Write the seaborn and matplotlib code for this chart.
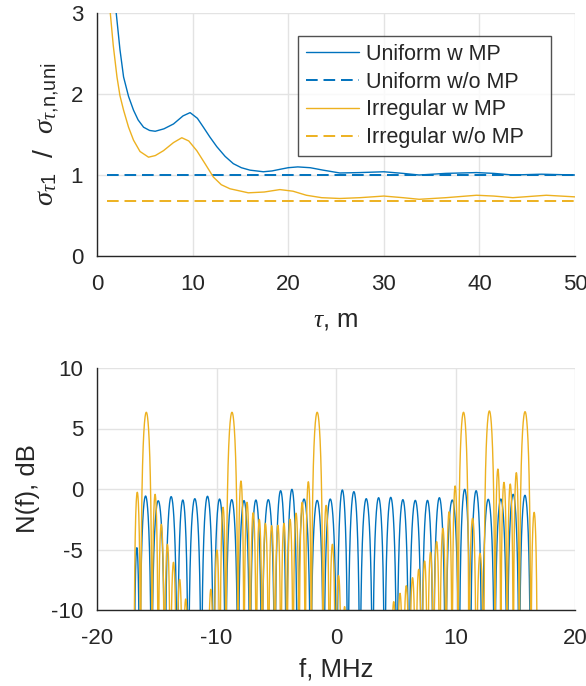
import numpy as np
import pandas as pd
import seaborn as sns
import matplotlib.pyplot as plt

# ---- top panel: normalised delay spread vs tau ----
tau_uni = [1.0, 1.5, 2.01, 2.4, 2.78, 3.3, 3.82, 4.3, 4.87, 5.5, 6.09, 7.0, 8.0, 9.0, 9.74,
           10.5, 11.13, 11.8, 12.53, 13.4, 14.26, 15.1, 16.0, 17.4, 18.3, 19.13, 20.0,
           21.0, 22.3, 23.65, 25.4, 27.5, 30.0, 32.0, 33.7, 36.5, 39.7, 41.5, 43.5, 46.5, 50.0]
sig_uni = [5.5, 4.0, 3.0, 2.55, 2.21, 1.97, 1.80, 1.68, 1.59, 1.55, 1.54, 1.57, 1.63, 1.73, 1.77,
           1.70, 1.59, 1.47, 1.35, 1.23, 1.14, 1.09, 1.06, 1.04, 1.05, 1.07, 1.09,
           1.10, 1.09, 1.06, 1.025, 1.03, 1.04, 1.02, 1.0, 1.02, 1.03, 1.02, 1.0, 1.01, 1.0]
tau_irr = [1.0, 1.39, 1.7, 2.09, 2.4, 2.78, 3.3, 3.82, 4.5, 5.39, 6.1, 6.95, 8.0, 8.87, 9.6,
           10.44, 11.3, 12.17, 13.0, 13.91, 15.83, 17.5, 19.13, 20.5, 21.9, 23.5, 25.4,
           27.5, 30.0, 32.0, 33.7, 36.5, 39.7, 41.5, 43.5, 47.0, 50.0]
sig_irr = [4.5, 3.0, 2.6, 2.21, 1.98, 1.80, 1.59, 1.43, 1.29, 1.22, 1.24, 1.30, 1.40, 1.46, 1.42,
           1.30, 1.14, 0.975, 0.88, 0.83, 0.78, 0.79, 0.82, 0.80, 0.75, 0.72, 0.71,
           0.72, 0.74, 0.72, 0.70, 0.72, 0.75, 0.74, 0.72, 0.75, 0.73]
tau_ref = [1.0, 50.0]
sig_uni_ref = [1.0, 1.0]
sig_irr_ref = [0.68, 0.68]

# ---- bottom panel: spectrum lobes (nulls and peak levels) ----
blue_nulls = [-16.90, -16.43, -15.44, -14.31, -13.28, -12.36, -11.27, -10.24, -9.25, -8.20,
              -7.20, -6.21, -5.12, -4.15, -3.23, -2.12, -1.03, 0.07, 0.99, 2.00, 3.06,
              4.07, 5.09, 6.10, 7.17, 8.14, 9.16, 10.30, 11.24, 12.21, 13.27, 14.32,
              15.33, 16.29]
blue_peaks = [-4.85, -0.58, -0.97, -0.63, -0.91, -0.80, -0.60, -0.83, -0.88, -0.96, -0.91,
              -0.88, -0.14, -0.03, -0.83, -0.94, -0.83, -0.08, -0.22, -0.80, -0.72, -0.69,
              -0.88, -0.94, -0.94, -0.72, -0.91, -0.03, -0.14, -0.85, -0.83, -0.44, -0.52]

yel_lo = [-16.91, -16.35, -15.40, -14.88, -14.36, -13.86, -13.34, -12.83,
          -10.73, -10.22, -9.71, -9.20, -8.21, -7.70, -7.19, -6.67, -6.17, -5.65, -5.12,
          -4.61, -4.10, -3.59, -3.09, -2.57, -2.06, -1.09, -0.56, -0.04, 0.47,
          4.57, 5.09, 5.62, 6.14, 6.67, 7.17, 7.66, 8.16, 8.68, 9.21, 9.72, 10.22,
          11.12, 11.74, 12.37, 13.30, 13.79, 14.32, 14.84, 15.34, 16.30]
yel_hi = [-16.35, -15.40, -14.88, -14.36, -13.86, -13.34, -12.83, -12.32,
          -10.22, -9.71, -9.20, -8.21, -7.70, -7.19, -6.67, -6.17, -5.65, -5.12, -4.61,
          -4.10, -3.59, -3.09, -2.57, -2.06, -1.09, -0.56, -0.04, 0.47, 0.97,
          5.09, 5.62, 6.14, 6.67, 7.17, 7.66, 8.16, 8.68, 9.21, 9.72, 10.22, 11.12,
          11.74, 12.37, 13.30, 13.79, 14.32, 14.84, 15.34, 16.30, 16.86]
yel_peaks = [-0.27, 6.34, -0.44, -2.92, -4.57, -6.06, -7.47, -9.09,
             -8.29, -5.04, -1.51, 6.34, 0.66, -1.10, -1.96, -2.51, -2.84, -3.03, -3.00,
             -2.84, -2.51, -2.00, -1.10, 0.60, 6.34, -1.35, -4.57, -7.16, -9.72,
             -9.31, -8.62, -7.99, -7.33, -6.64, -5.95, -5.23, -4.35, -3.25, -1.88, 0.25, 6.34,
             -2.42, -5.32, 6.45, 1.65, 0.55, 0.41, 1.35, 6.39, -1.93]

BLUE = "#0072BD"
YELLOW = "#EDB120"
DARK = "#262626"


def lobe_curve(lo, hi, pk, n=90, shape=0.75):
    # each lobe: drawn between its two nulls, topping out at its peak level
    fs, ys = [], []
    for a, b, p in zip(lo, hi, pk):
        t = np.linspace(0, 1, n)
        s = np.maximum(np.sin(np.pi * t), 1e-4)
        fs.append(a + (b - a) * t)
        ys.append(p + 20 * shape * np.log10(s))
    return pd.DataFrame({"f": np.concatenate(fs), "db": np.concatenate(ys)})


sns.set_theme(style="white")
plt.rcParams["font.family"] = ["Liberation Sans", "DejaVu Sans"]
plt.rcParams["mathtext.fontset"] = "custom"
plt.rcParams["mathtext.rm"] = "Liberation Sans"
plt.rcParams["mathtext.it"] = "Liberation Serif:italic"
plt.rcParams["text.color"] = DARK
plt.rcParams["axes.labelcolor"] = DARK

fig = plt.figure(figsize=(5.86, 6.86), dpi=100)
ax1 = fig.add_axes([97 / 586, 1 - 256 / 686, 478 / 586, 243 / 686])
ax2 = fig.add_axes([97 / 586, 1 - 610 / 686, 478 / 586, 242 / 686])

top = pd.DataFrame({"tau": tau_uni, "sig": sig_uni})
top_irr = pd.DataFrame({"tau": tau_irr, "sig": sig_irr})
sns.lineplot(data=top, x="tau", y="sig", ax=ax1, color=BLUE, lw=1.0,
             sort=False, estimator=None, label="Uniform w MP")
sns.lineplot(x=tau_ref, y=sig_uni_ref, ax=ax1, color=BLUE, lw=1.4,
             label="Uniform w/o MP").lines[-1].set_dashes((6, 3))
sns.lineplot(data=top_irr, x="tau", y="sig", ax=ax1, color=YELLOW, lw=1.0,
             sort=False, estimator=None, label="Irregular w MP")
sns.lineplot(x=tau_ref, y=sig_irr_ref, ax=ax1, color=YELLOW, lw=1.4,
             label="Irregular w/o MP").lines[-1].set_dashes((6, 3))

blue_df = lobe_curve(blue_nulls[:-1], blue_nulls[1:], blue_peaks)
yel_df = lobe_curve(yel_lo, yel_hi, yel_peaks)
sns.lineplot(data=blue_df, x="f", y="db", ax=ax2, color=BLUE, lw=1.0,
             sort=False, estimator=None)
sns.lineplot(data=yel_df, x="f", y="db", ax=ax2, color=YELLOW, lw=1.0,
             sort=False, estimator=None)

ax1.set_xlim(0, 50)
ax1.set_ylim(0, 3)
ax1.set_xticks([0, 10, 20, 30, 40, 50])
ax1.set_yticks([0, 1, 2, 3])
ax1.set_xlabel(r"$\tau$, m", fontsize=18.5, labelpad=9)
ax1.set_ylabel(r"$\sigma_{\tau\mathrm{1}}$  /  $\sigma_{\tau\mathrm{{,}n{,}uni}}$",
               fontsize=20.5, labelpad=6)

ax2.set_xlim(-20, 20)
ax2.set_ylim(-10, 10)
ax2.set_xticks([-20, -10, 0, 10, 20])
ax2.set_yticks([-10, -5, 0, 5, 10])
ax2.set_xticklabels(["-20", "-10", "0", "10", "20"])
ax2.set_yticklabels(["-10", "-5", "0", "5", "10"])
ax2.set_xlabel("f, MHz", fontsize=18.5, labelpad=6)
ax2.set_ylabel("N(f), dB", fontsize=18.5, labelpad=8)

for ax in (ax1, ax2):
    ax.grid(True, color="#e3e3e3", lw=1.0)
    ax.set_axisbelow(True)
    for side in ("top", "right"):
        ax.spines[side].set_visible(False)
    for side in ("left", "bottom"):
        ax.spines[side].set_color(DARK)
        ax.spines[side].set_linewidth(1.0)
    ax.tick_params(direction="in", length=5, width=1.0, colors=DARK, labelsize=16)
    ax.tick_params(axis="x", pad=13)
    ax.tick_params(axis="y", pad=10)

leg = ax1.legend(loc="upper left", bbox_to_anchor=(0.4205, 0.405, 0.529, 0.5),
                 mode="expand", fontsize=15.5, frameon=True, fancybox=False,
                 handlelength=2.5, handletextpad=0.3, borderpad=0.35,
                 labelspacing=0.32, borderaxespad=0)
leg.get_frame().set_edgecolor(DARK)
leg.get_frame().set_linewidth(1.0)

plt.savefig("out.png", dpi=100)
